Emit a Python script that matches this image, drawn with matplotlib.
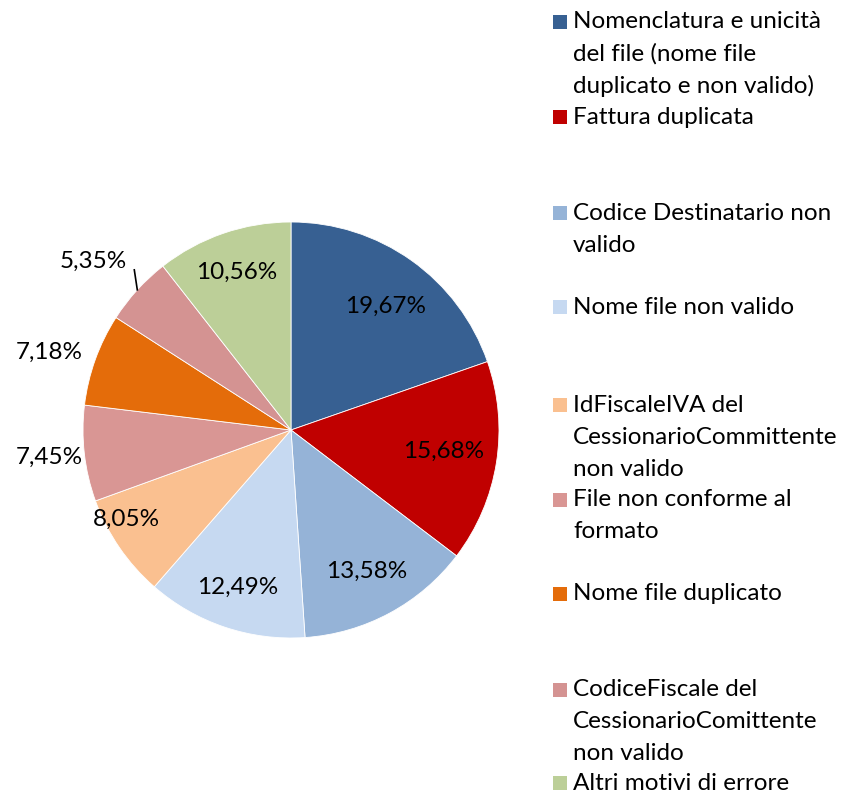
import numpy as np
import matplotlib
matplotlib.use("Agg")
import matplotlib.pyplot as plt

categories = [
    "Nomenclatura e unicità\ndel file (nome file\nduplicato e non valido)",
    "Fattura duplicata",
    "Codice Destinatario non\nvalido",
    "Nome file non valido",
    "IdFiscaleIVA del\nCessionarioCommittente\nnon valido",
    "File non conforme al\nformato",
    "Nome file duplicato",
    "CodiceFiscale del\nCessionarioComittente\nnon valido",
    "Altri motivi di errore",
]
values = [19.67, 15.68, 13.58, 12.49, 8.05, 7.45, 7.18, 5.35, 10.56]
labels = ["19,67%", "15,68%", "13,58%", "12,49%", "8,05%", "7,45%", "7,18%", "5,35%", "10,56%"]
colors = ["#376092", "#C00000", "#95B3D7", "#C6D9F1", "#FAC090",
          "#D99694", "#E46C0A", "#D49392", "#BCCF98"]

# layout (pixel units)
W, H = 846, 792
label_dist = [0.75, 0.74, 0.77, 0.80, 0.90, 1.17, 1.22, 1.25, 0.80]
label_dang = [-2, 1, 0, 0, -6, 0, 2, 2, 0]
legend_y = [22, 117, 213, 307, 405, 500, 594, 690, 783]
line_h = 32
fs = 17.5

plt.rcParams['font.family'] = ['Lato', 'DejaVu Sans']
fig = plt.figure(figsize=(W / 100, H / 100), dpi=100)
ax = fig.add_axes([0, 0, 1, 1])

cx, cy, r = 291, H - 430, 208
wedges, _ = ax.pie(values, colors=colors, startangle=90, counterclock=False,
                   center=(cx, cy), radius=r, frame=True,
                   wedgeprops=dict(edgecolor='white', linewidth=0.6))
ax.set_xlim(0, W)
ax.set_ylim(0, H)
ax.set_aspect('equal')
ax.axis('off')

for w, lab, d, da in zip(wedges, labels, label_dist, label_dang):
    ang = np.deg2rad((w.theta1 + w.theta2) / 2 + da)
    x = cx + d * r * np.cos(ang)
    y = cy + d * r * np.sin(ang)
    ax.text(x, y, lab, ha='center', va='center', fontsize=fs, color='black')

# leader line for the small slice
w = wedges[7]
ang = np.deg2rad((w.theta1 + w.theta2) / 2)
x0, y0 = cx + r * np.cos(ang), cy + r * np.sin(ang)
ax.plot([x0, x0 - 3], [y0, y0 + 20], color='black', lw=1.2)

for cat, col, ly in zip(categories, colors, legend_y):
    ax.add_patch(plt.Rectangle((553, H - ly - 7), 14, 14, facecolor=col, edgecolor='none'))
    for i, line in enumerate(cat.split("\n")):
        ax.text(573, H - (ly + i * line_h), line, ha='left', va='center',
                fontsize=fs, color='black')

fig.savefig("out.png", dpi=100)
